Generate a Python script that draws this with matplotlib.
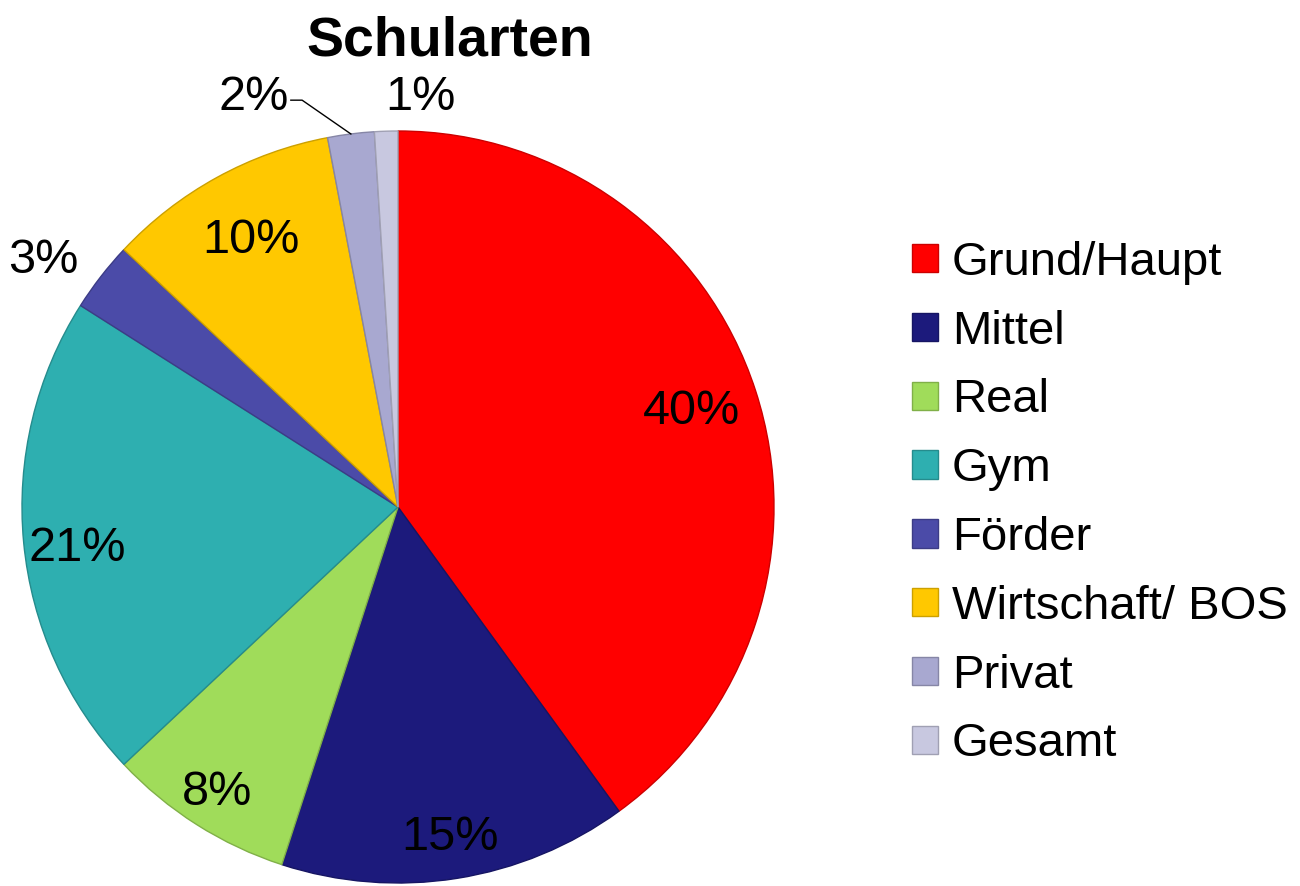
import numpy as np
import matplotlib.pyplot as plt
import matplotlib.colors as mcolors

labels = ["Grund/Haupt", "Mittel", "Real", "Gym", "Förder",
          "Wirtschaft/ BOS", "Privat", "Gesamt"]
shares = [40, 15, 8, 21, 3, 10, 2, 1]
colors = ["#FF0000", "#1C1A7C", "#A0DC5A", "#2EAFB0", "#4B4BA8",
          "#FFC800", "#A8A8D0", "#C8C8E0"]

plt.rcParams["font.family"] = ["Liberation Sans", "DejaVu Sans"]

fig = plt.figure(figsize=(13, 8.86), dpi=100)
W, H = 1300, 886
cx, cy, r = 398, 507, 376
ax = fig.add_axes([(cx - r) / W, (H - cy - r) / H, 2 * r / W, 2 * r / H])

edges = [tuple(c * 0.8 for c in mcolors.to_rgb(col)) for col in colors]
wedges, _ = ax.pie(shares, colors=colors, startangle=90, counterclock=False,
                   radius=1.0, wedgeprops=dict(linewidth=1.0))
for w, e in zip(wedges, edges):
    w.set_edgecolor(e)
ax.set_xlim(-1, 1)
ax.set_ylim(-1, 1)
ax.set_aspect("equal")
ax.axis("off")

# (radial distance, angle shift in degrees) for each percentage label
label_pos = {0: (0.82, 0), 1: (0.89, 0), 2: (0.9, 0), 3: (0.86, 2),
             4: (1.15, 3), 5: (0.81, 0), 7: (1.09, -5)}
for i, (w, v) in enumerate(zip(wedges, shares)):
    mid = (w.theta1 + w.theta2) / 2
    if i == 6:
        a = np.deg2rad(mid)
        px, py = np.cos(a), np.sin(a)
        ax.plot([-0.285, -0.255, px], [1.082, 1.082, py], color="black",
                lw=1, clip_on=False)
        ax.text(-0.29, 1.09, f"{v}%", ha="right", va="center", fontsize=35)
        continue
    d, shift = label_pos[i]
    a = np.deg2rad(mid + shift)
    ax.text(d * np.cos(a), d * np.sin(a), f"{v}%", ha="center",
            va="center", fontsize=35)

fig.text(450 / W, 1 - 42 / H, "Schularten", ha="center", va="center",
         fontsize=40, fontweight="bold")

leg = fig.legend(wedges, labels, loc="upper left",
                 bbox_to_anchor=(893 / W, 1 - 222 / H), frameon=False,
                 fontsize=34, handlelength=0.55, handleheight=0.55,
                 handletextpad=0.3, labelspacing=0.525, borderaxespad=0)

fig.savefig("out.png", dpi=100)
